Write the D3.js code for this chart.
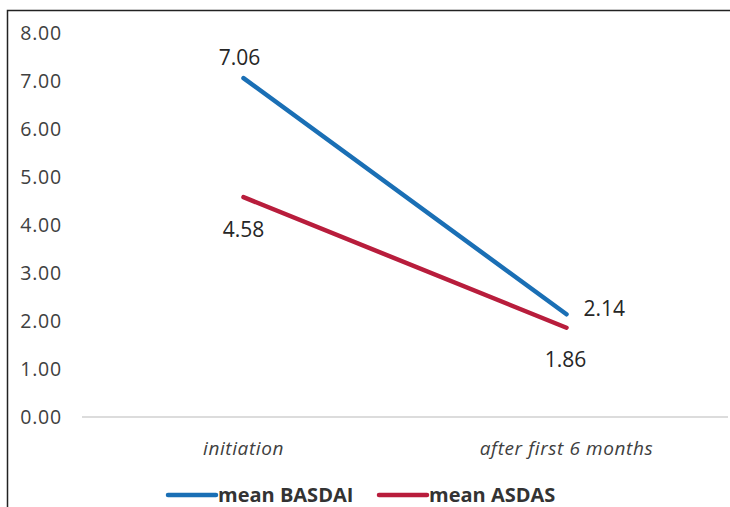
<!DOCTYPE html>
<html>
<head>
<meta charset="utf-8">
<script src="https://cdn.jsdelivr.net/npm/d3@7"></script>
<style>
  html, body { margin: 0; padding: 0; background: #fff; }
  svg { display: block; font-family: "Open Sans", "Noto Sans", sans-serif; }
</style>
</head>
<body>
<svg id="chart" width="730" height="507"></svg>
<script>
// Time points and mean scores
const categories = ["initiation", "after first 6 months"];
const basdai = [7.06, 2.14];
const asdas = [4.58, 1.86];
const yTicks = [0, 1, 2, 3, 4, 5, 6, 7, 8];
const seriesNames = ["mean BASDAI", "mean ASDAS"];
const seriesColors = ["#1a6fb5", "#b81d3c"];

const svg = d3.select("#chart");

// Outer frame
svg.append("rect")
  .attr("x", 7.5).attr("y", 10.5)
  .attr("width", 740).attr("height", 520)
  .attr("fill", "none").attr("stroke", "#222").attr("stroke-width", 1.5);

const plot = { left: 82, right: 728, top: 33, bottom: 417 };

const x = d3.scaleBand().domain(categories).range([plot.left, plot.right]);
const y = d3.scaleLinear().domain([0, 8]).range([plot.bottom, plot.top]);

// Y axis labels (no axis line)
const yAxis = d3.axisLeft(y).tickValues(yTicks).tickFormat(d3.format(".2f")).tickSize(0).tickPadding(20);
const gy = svg.append("g").attr("transform", `translate(${plot.left},0)`).call(yAxis);
gy.select(".domain").remove();
gy.selectAll("text").attr("font-size", 19.5).attr("letter-spacing", 0.8).attr("fill", "#404040")
  .attr("font-family", "'Open Sans', sans-serif");

// Baseline
svg.append("line")
  .attr("x1", plot.left).attr("x2", plot.right)
  .attr("y1", y(0)).attr("y2", y(0))
  .attr("stroke", "#d0d0d0").attr("stroke-width", 1.5);

// Category labels
const xAxis = d3.axisBottom(x).tickSize(0).tickPadding(24.5);
const gx = svg.append("g").attr("transform", `translate(0,${y(0)})`).call(xAxis);
gx.select(".domain").remove();
gx.selectAll("text").attr("font-size", 19).attr("letter-spacing", 0.6)
  .attr("font-style", "italic").attr("fill", "#404040")
  .attr("font-family", "'Open Sans', sans-serif");

const cx = d => x(d) + x.bandwidth() / 2;
const line = d3.line().x((d, i) => cx(categories[i])).y(d => y(d));

const series = [basdai, asdas];
series.forEach((vals, s) => {
  svg.append("path")
    .datum(vals)
    .attr("d", line)
    .attr("fill", "none")
    .attr("stroke", seriesColors[s])
    .attr("stroke-width", 4.5)
    .attr("stroke-linecap", "round");
});

// Value labels
const lbl = (txt, px, py, anchor) => svg.append("text")
  .attr("x", px).attr("y", py).attr("text-anchor", anchor)
  .attr("font-size", 21).attr("fill", "#262626").text(txt);

lbl(d3.format(".2f")(basdai[0]), cx(categories[0]) - 4, y(basdai[0]) - 13, "middle");
lbl(d3.format(".2f")(asdas[0]), cx(categories[0]), y(asdas[0]) + 40, "middle");
lbl(d3.format(".2f")(basdai[1]), cx(categories[1]) + 17, y(basdai[1]) + 2, "start");
lbl(d3.format(".2f")(asdas[1]), cx(categories[1]) - 1, y(asdas[1]) + 39, "middle");

// Legend
const legendItems = [{ x: 168 }, { x: 379 }];
legendItems.forEach((it, i) => {
  svg.append("line")
    .attr("x1", it.x).attr("x2", it.x + 48)
    .attr("y1", 495).attr("y2", 495)
    .attr("stroke", seriesColors[i]).attr("stroke-width", 4.5)
    .attr("stroke-linecap", "round");
  svg.append("text")
    .attr("x", it.x + 50).attr("y", 502)
    .attr("font-size", 20).attr("font-weight", "bold").attr("fill", "#333")
    .text(seriesNames[i]);
});
</script>
</body>
</html>
